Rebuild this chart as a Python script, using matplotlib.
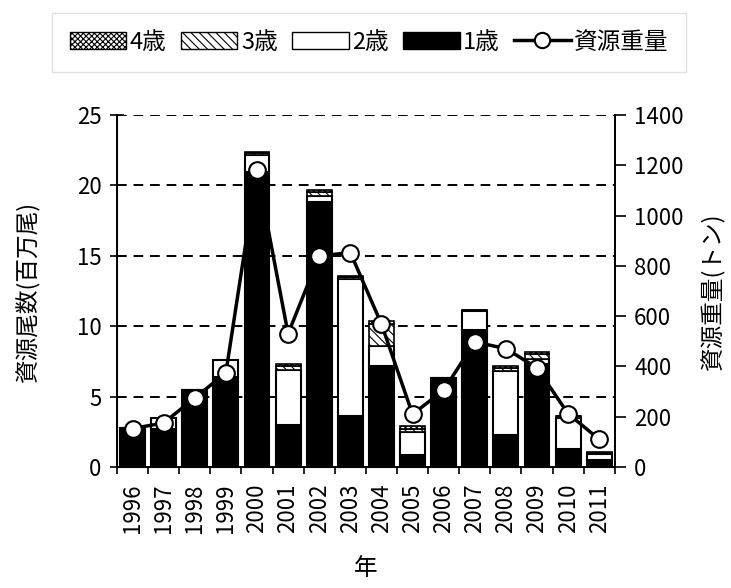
import matplotlib
matplotlib.use("Agg")
import matplotlib.pyplot as plt
from matplotlib.patches import Patch
from matplotlib.lines import Line2D
import numpy as np

plt.rcParams['font.family'] = ['Noto Sans CJK JP', 'DejaVu Sans']
plt.rcParams['hatch.linewidth'] = 0.8

years = ['1996', '1997', '1998', '1999', '2000', '2001', '2002', '2003',
         '2004', '2005', '2006', '2007', '2008', '2009', '2010', '2011']
age1 = [2.75, 2.7, 5.5, 6.4, 20.95, 2.95, 18.85, 3.65, 7.2, 0.83, 6.35, 9.75, 2.25, 7.3, 1.3, 0.5]
age2 = [0.0, 0.8, 0.0, 1.2, 1.2, 3.95, 0.4, 9.7, 1.4, 1.65, 0.0, 1.3, 4.6, 0.35, 2.2, 0.4]
age3 = [0.0, 0.0, 0.0, 0.0, 0.15, 0.25, 0.3, 0.15, 1.55, 0.25, 0.0, 0.08, 0.2, 0.4, 0.1, 0.1]
age4 = [0.0, 0.0, 0.0, 0.0, 0.1, 0.15, 0.15, 0.08, 0.25, 0.15, 0.0, 0.0, 0.1, 0.15, 0.05, 0.05]
biomass = [153, 175, 275, 374, 1180, 530, 839, 853, 569, 210, 305, 497, 471, 394, 212, 110]

fig = plt.figure(figsize=(7.31, 5.88), dpi=100)
ax = fig.add_axes([0.160, 0.2058, 0.681, 0.5986])
x = np.arange(len(years))
w = 0.8
a1 = np.array(age1); a2 = np.array(age2); a3 = np.array(age3); a4 = np.array(age4)

for yv in [5, 10, 15, 20, 25]:
    ax.axhline(yv, color='black', lw=1.4, ls=(0, (5, 3.5)), zorder=0)

ax.bar(x, a1, w, color='black', edgecolor='black', lw=1.5, zorder=2)
ax.bar(x, a2, w, bottom=a1, color='white', edgecolor='black', lw=1.5, zorder=2)
ax.bar(x, a3, w, bottom=a1 + a2, color='white', edgecolor='black', lw=1.2, hatch='\\\\\\\\', zorder=2)
ax.bar(x, a4, w, bottom=a1 + a2 + a3, color='white', edgecolor='black', lw=1.2, hatch='xxxxxx', zorder=2)

ax.set_xlim(-0.5, len(years) - 0.5)
ax.set_ylim(0, 25)
ax.set_yticks([0, 5, 10, 15, 20, 25])
ax.set_xticks(x)
ax.set_xticklabels(years, rotation=90, fontsize=16)
ax.tick_params(axis='x', length=0, pad=12)
ax.set_xticks(np.arange(-0.5, len(years), 1.0), minor=True)
ax.tick_params(axis='x', which='minor', length=5, width=1.2, direction='out')
ax.tick_params(axis='y', direction='inout', length=10, width=1.2, labelsize=16, pad=6)
ax.spines['top'].set_visible(False)
for s in ['left', 'bottom', 'right']:
    ax.spines[s].set_linewidth(1.4)
ax.set_ylabel('資源尾数(百万尾)', fontsize=17, labelpad=26)
ax.set_xlabel('年', fontsize=17, labelpad=17)

ax2 = ax.twinx()
ax2.plot(x, biomass, color='black', lw=2.5, marker='o', ms=12,
         markerfacecolor='white', markeredgecolor='black', mew=1.5, zorder=5)
ax2.set_ylim(0, 1400)
ax2.set_yticks(range(0, 1401, 200))
ax2.tick_params(axis='y', direction='out', length=8, width=1.2, labelsize=16, pad=6)
ax2.spines['top'].set_visible(False)
ax2.spines['right'].set_linewidth(1.4)
ax2.set_ylabel('資源重量(トン)', fontsize=17, labelpad=12)
ax2.set_xlim(-0.5, len(years) - 0.5)

handles = [
    Patch(facecolor='white', edgecolor='black', hatch='xxxxxx', label='4歳'),
    Patch(facecolor='white', edgecolor='black', hatch='\\\\\\\\', label='3歳'),
    Patch(facecolor='white', edgecolor='black', label='2歳'),
    Patch(facecolor='black', edgecolor='black', label='1歳'),
    Line2D([0], [0], color='black', lw=2.5, marker='o', ms=11,
           markerfacecolor='white', markeredgecolor='black', mew=1.5, label='資源重量'),
]
leg = fig.legend(handles=handles, loc='center', bbox_to_anchor=(0.505, 0.928), ncol=5,
                 fontsize=17, frameon=True, fancybox=False, edgecolor='#d9d9d9',
                 handlelength=2.4, handleheight=0.75, handletextpad=0.15, columnspacing=0.6,
                 borderpad=0.75)
leg.get_frame().set_linewidth(1.0)

fig.savefig('out.png', dpi=100)
